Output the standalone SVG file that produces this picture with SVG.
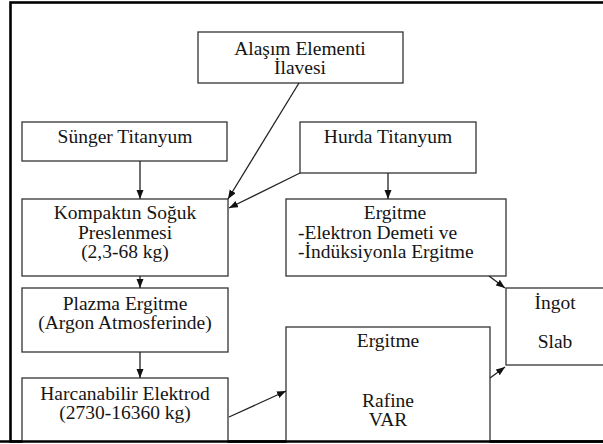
<svg xmlns="http://www.w3.org/2000/svg" width="603" height="444" viewBox="0 0 603 444">
<style>
.box{fill:#fff;stroke:#333;stroke-width:1.3}
.t{font-family:'Liberation Serif','DejaVu Serif','Times New Roman',Times,serif;font-size:19.5px;fill:#151515;text-anchor:middle}
.l{text-anchor:start}
.c{stroke:#222;stroke-width:1.3;fill:none;marker-end:url(#ah)}
</style>
<defs>
<marker id="ah" markerUnits="userSpaceOnUse" markerWidth="10" markerHeight="8" refX="9" refY="3.5" orient="auto">
<path d="M0,0 L9,3.5 L0,7 z" fill="#111"/>
</marker>
</defs>
<rect width="603" height="444" fill="#fff"/>
<rect x="10.5" y="2.5" width="700" height="439" fill="none" stroke="#000" stroke-width="2.6"/>
<g id="alasim"><rect class="box" x="198" y="32" width="205" height="51"/><text class="t" font-family="Liberation Serif" x="300" y="55">Alaşım Elementi</text><text class="t" font-family="Liberation Serif" x="300" y="74">İlavesi</text></g>
<g id="sunger"><rect class="box" x="22" y="122" width="205" height="39"/><text class="t" x="125" y="143">Sünger Titanyum</text></g>
<g id="hurda"><rect class="box" x="300" y="122" width="176" height="51"/><text class="t" x="388" y="143">Hurda Titanyum</text></g>
<g id="kompakt"><rect class="box" x="22" y="199" width="206" height="77"/><text class="t" x="125" y="219">Kompaktın Soğuk</text><text class="t" x="125" y="238.5">Preslenmesi</text><text class="t" x="125" y="258">(2,3-68 kg)</text></g>
<g id="ergitme1"><rect class="box" x="286" y="199" width="220" height="77"/><text class="t" x="395" y="219">Ergitme</text><text class="t l" x="298" y="238.5">-Elektron Demeti ve</text><text class="t l" x="298" y="258">-İndüksiyonla Ergitme</text></g>
<g id="plazma"><rect class="box" x="22" y="288" width="206" height="64"/><text class="t" x="125" y="310">Plazma Ergitme</text><text class="t" x="125" y="329">(Argon Atmosferinde)</text></g>
<g id="ingot"><rect class="box" x="506" y="288" width="110" height="77"/><text class="t" x="555" y="309">İngot</text><text class="t" x="555" y="348">Slab</text></g>
<g id="harcanabilir"><rect class="box" x="22" y="378" width="206" height="80"/><text class="t" x="125" y="400">Harcanabilir Elektrod</text><text class="t" x="125" y="419">(2730-16360 kg)</text></g>
<g id="var"><rect class="box" x="286" y="327" width="204" height="130"/><text class="t" x="388" y="347">Ergitme</text><text class="t" x="388" y="407">Rafine</text><text class="t" x="388" y="426">VAR</text></g>
<line x1="0" y1="441.5" x2="603" y2="441.5" stroke="#000" stroke-width="2.6"/>
<rect x="0" y="443" width="603" height="1" fill="#fff"/>
<g id="connectors">
<line class="c" x1="140" y1="161" x2="140" y2="199"/>
<line class="c" x1="299" y1="83" x2="228" y2="199"/>
<line class="c" x1="300" y1="173" x2="229" y2="208"/>
<line class="c" x1="388" y1="173" x2="388" y2="199"/>
<line class="c" x1="140" y1="276" x2="140" y2="288"/>
<line class="c" x1="140" y1="352" x2="140" y2="378"/>
<line class="c" x1="229" y1="417" x2="286" y2="391"/>
<line class="c" x1="489" y1="276" x2="505" y2="288"/>
<line class="c" x1="490" y1="378" x2="505" y2="367"/>
</g>
</svg>
